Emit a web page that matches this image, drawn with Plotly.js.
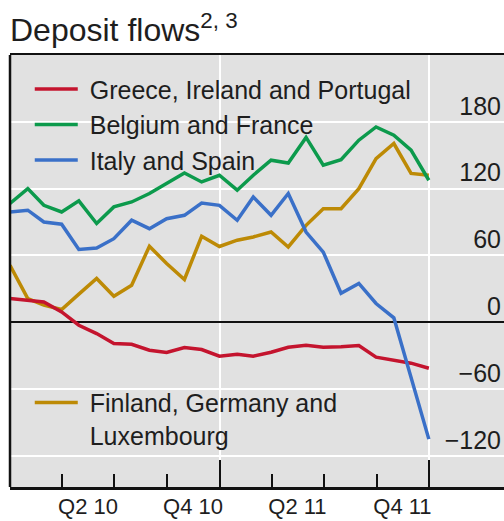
<!DOCTYPE html>
<html><head><meta charset="utf-8">
<script src="https://cdn.plot.ly/plotly-3.0.1.min.js"></script>
<style>html,body{margin:0;padding:0;background:#fff}#chart{width:504px;height:521px}</style>
</head><body><div id="chart"></div>
<script>
const months = ['2009-12-31','2010-01-31','2010-02-28','2010-03-31','2010-04-30','2010-05-31','2010-06-30','2010-07-31','2010-08-31','2010-09-30','2010-10-31','2010-11-30','2010-12-31','2011-01-31','2011-02-28','2011-03-31','2011-04-30','2011-05-31','2011-06-30','2011-07-31','2011-08-31','2011-09-30','2011-10-31','2011-11-30','2011-12-31'];
const greeceIrelandPortugal = [21.3,19.8,18.2,9.3,-2.7,-10.2,-19.1,-19.8,-25.2,-27.2,-22.7,-24.5,-30.5,-28.7,-30.5,-27,-22.5,-20.7,-22.5,-22,-21,-31.4,-34,-36.8,-41.3];
const belgiumFrance = [106.6,120,105,99,109,88.7,103.6,108,115.6,124.6,134,126,132,118.6,132,145.5,143,166,141,146,163.5,175.4,168,154.5,127.5];
const italySpain = [99,100.6,90,88,65.3,66.7,75,91.6,84,93,96,107,105,91.6,112.5,96,115.6,81,63,26,34.8,16.8,4,-50,-105];
const finlandGermanyLux = [51.2,21.3,15.3,11.4,25.2,39.3,23.4,33.2,68.3,52.7,38.4,77.2,68,73.7,76.6,81,67.6,87,102,102,120,147,160.5,133.6,132];
const seriesNames = ['Greece, Ireland and Portugal','Belgium and France','Italy and Spain','Finland, Germany and<br>Luxembourg'];
const quarterLabels = ['Q2 10','Q4 10','Q2 11','Q4 11'];
const quarterLabelDates = ['2010-05-16','2010-11-15','2011-05-16','2011-11-15'];
const quarterTickDates = ['2010-04-01','2010-07-01','2010-10-01','2011-04-01','2011-07-01','2011-10-01'];
const yearTickDates = ['2011-01-01','2012-01-01'];
const yTickValues = [-120,-60,0,60,120,180];
const xRange = ['2009-12-31','2012-05-10'];
const yRange = [-148,240];

const colors = {red:'#c4142e', green:'#0c9a4c', blue:'#3a70c8', gold:'#bd8a05'};
const lw = 3.5;
const pad = '\u00a0';

const traces = [
  {x:months, y:finlandGermanyLux, name:pad+seriesNames[3].replace('<br>','<br>'+pad), type:'scatter', mode:'lines', line:{color:colors.gold,width:lw}, legend:'legend2'},
  {x:months, y:greeceIrelandPortugal, name:pad+seriesNames[0], type:'scatter', mode:'lines', line:{color:colors.red,width:lw}, legendrank:1},
  {x:months, y:italySpain, name:pad+seriesNames[2], type:'scatter', mode:'lines', line:{color:colors.blue,width:lw}, legendrank:3},
  {x:months, y:belgiumFrance, name:pad+seriesNames[1], type:'scatter', mode:'lines', line:{color:colors.green,width:lw}, legendrank:2, xaxis:'x2'}
];

const layout = {
  width:504, height:521,
  margin:{l:10,r:0,t:55,b:34,pad:0},
  paper_bgcolor:'#ffffff', plot_bgcolor:'#e1e1e1',
  font:{family:'"Liberation Sans", Arial, sans-serif', color:'#1e1e1e', size:24},
  title:{text:'Deposit flows<sup>2, 3</sup>', x:10/504, xanchor:'left', xref:'container', y:1-30/521, yref:'container', yanchor:'middle', font:{size:32, color:'#1e1e1e'}},
  showlegend:true,
  hovermode:false,
  xaxis:{type:'date', range:xRange, tickmode:'array', tickvals:yearTickDates, showticklabels:false,
    ticks:'inside', ticklen:27, tickwidth:2, tickcolor:'#111',
    showgrid:true, gridcolor:'#ffffff', gridwidth:2,
    showline:true, linecolor:'#111', linewidth:2.5, mirror:true, zeroline:false,
    minor:{tickmode:'array', tickvals:quarterTickDates, ticks:'inside', ticklen:13, tickwidth:2, tickcolor:'#111', showgrid:false}},
  xaxis2:{type:'date', overlaying:'x', anchor:'y', side:'bottom', range:xRange, tickmode:'array',
    tickvals:quarterLabelDates, ticktext:quarterLabels, ticks:'', showgrid:false, showline:false, zeroline:false,
    ticklabelstandoff:4, tickfont:{size:22, color:'#1e1e1e'}},
  yaxis:{side:'right', range:yRange, tickmode:'array', tickvals:yTickValues, ticklabelposition:'inside', ticklabelshift:-16,
    ticks:'', showgrid:true, gridcolor:'#ffffff', gridwidth:2,
    zeroline:true, zerolinecolor:'#111', zerolinewidth:2, showline:false, tickfont:{size:25, color:'#1e1e1e'}},
  legend:{x:0.04, y:0.974, xanchor:'left', yanchor:'top', bgcolor:'rgba(0,0,0,0)', borderwidth:0,
    font:{size:25, color:'#1e1e1e'}, itemwidth:43, tracegroupgap:0, traceorder:'normal'},
  legend2:{x:0.04, y:0.248, xanchor:'left', yanchor:'top', bgcolor:'rgba(0,0,0,0)', borderwidth:0,
    font:{size:25, color:'#1e1e1e'}, itemwidth:43, valign:'top'},
  shapes:[{type:'line', xref:'paper', yref:'paper', x0:0, x1:0, y0:0, y1:1, line:{color:'#111', width:2.5}}]
};

Plotly.newPlot('chart', traces, layout, {staticPlot:true, displayModeBar:false});
</script></body></html>
